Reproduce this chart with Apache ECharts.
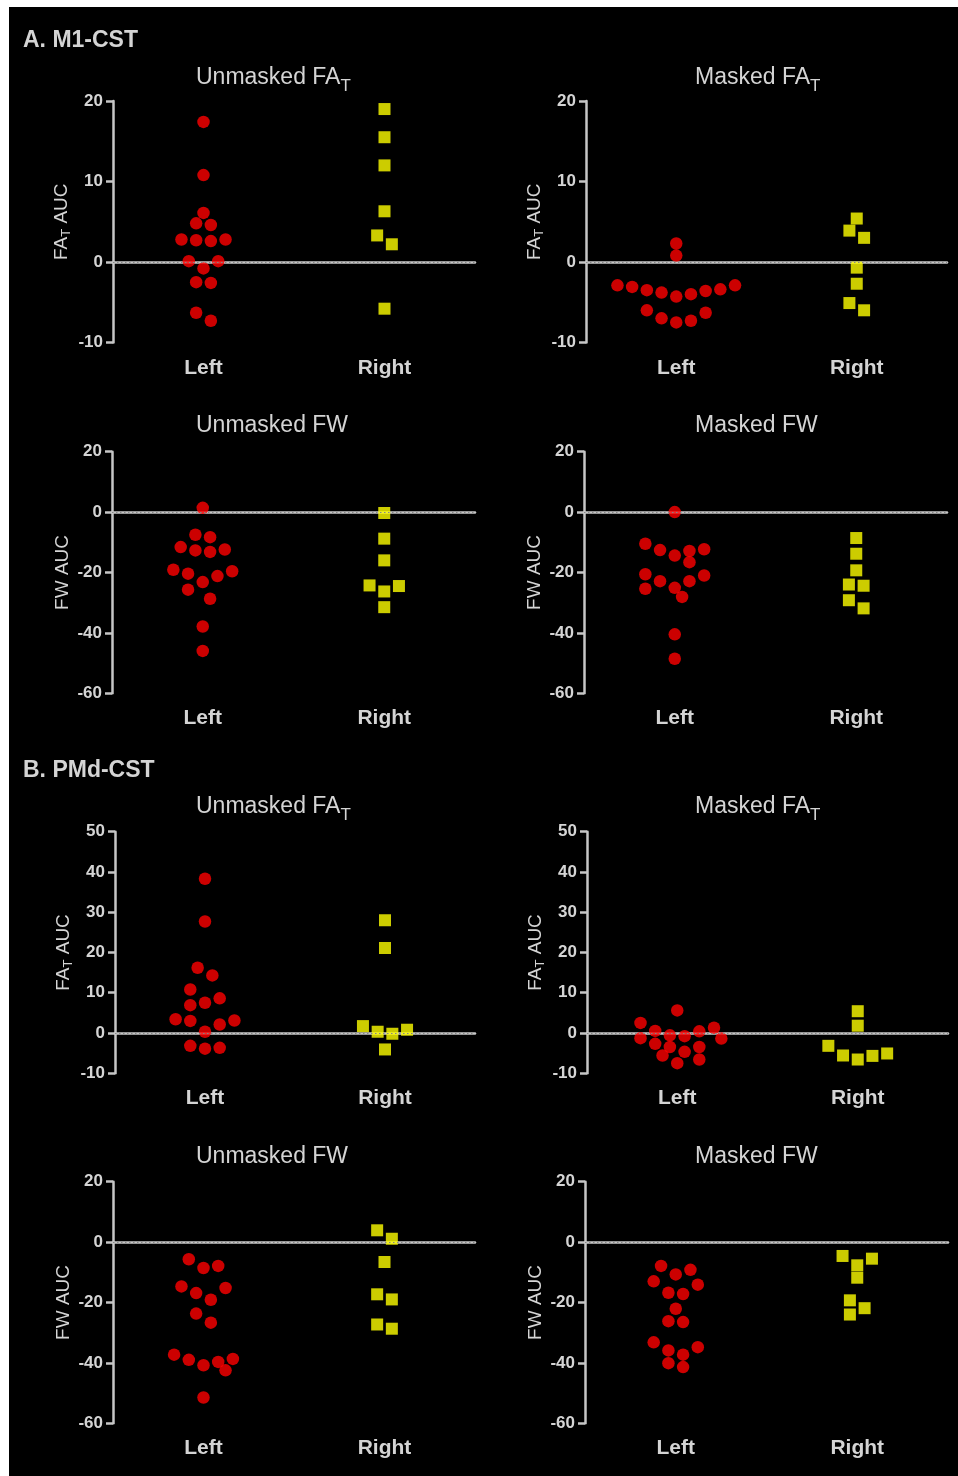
<!DOCTYPE html>
<html>
<head>
<meta charset="utf-8">
<title>M1-CST / PMd-CST AUC</title>
<script src="https://cdn.jsdelivr.net/npm/echarts@6/dist/echarts.min.js"></script>
<style>
  html, body { margin: 0; padding: 0; background: #fff; }
  #chart { position: absolute; left: 9px; top: 7px; width: 949px; height: 1469px; }
</style>
</head>
<body>
<div id="chart"></div>
<script>
// categories and y ranges [min, max, interval]
const sides = ['Left', 'Right'];
const m1FaRange = [-10, 20, 10];
const pmdFaRange = [-10, 50, 10];
const fwRange = [-60, 20, 20];

// A. M1-CST
const m1UnmaskedFaLeft = [17.4, 10.8, 6.1, 4.6, 4.8, 2.8, 2.7, 2.6, 2.8, 0.1, 0.1, -0.8, -2.5, -2.6, -6.3, -7.3];
const m1UnmaskedFaRight = [19.0, 15.5, 12.0, 6.3, 3.3, 2.2, -5.8];
const m1MaskedFaLeft = [2.3, 0.8, -3.4, -3.6, -4.0, -2.9, -2.9, -4.3, -3.8, -3.5, -3.1, -6.0, -7.0, -7.5, -7.3, -6.3];
const m1MaskedFaRight = [5.4, 3.9, 3.0, -0.7, -2.7, -5.1, -6.0];
const m1UnmaskedFwLeft = [1.4, -7.5, -8.3, -12.4, -13.2, -12.7, -11.6, -19.6, -21.2, -20.4, -19.1, -23.2, -25.7, -28.7, -37.9, -46.0];
const m1UnmaskedFwRight = [-0.3, -8.8, -16.0, -24.5, -24.3, -26.3, -31.5];
const m1MaskedFwLeft = [0.0, -10.5, -12.3, -12.9, -14.4, -12.6, -16.6, -20.6, -21.0, -22.9, -22.9, -25.1, -25.4, -28.1, -40.5, -48.6];
const m1MaskedFwRight = [-8.6, -13.8, -19.3, -24.0, -24.4, -29.2, -31.9];

// B. PMd-CST
const pmdUnmaskedFaLeft = [38.3, 27.7, 16.2, 14.3, 10.8, 8.6, 6.9, 7.5, 3.1, 3.4, 3.0, 2.1, 0.3, -3.2, -3.9, -3.7];
const pmdUnmaskedFaRight = [28.0, 21.1, 1.7, 0.3, -0.2, 0.8, -4.1];
const pmdMaskedFaLeft = [5.6, 2.5, 1.3, 0.4, 0.5, -0.8, -0.6, -1.4, -1.3, -2.7, -3.5, -3.5, -4.7, -5.6, -6.6, -7.5];
const pmdMaskedFaRight = [5.4, 1.8, -3.2, -5.6, -6.6, -5.7, -5.1];
const pmdUnmaskedFwLeft = [-5.7, -7.9, -8.6, -15.2, -14.7, -16.9, -19.1, -23.7, -26.7, -37.3, -39.0, -38.7, -39.7, -40.8, -42.5, -51.5];
const pmdUnmaskedFwRight = [3.9, 1.1, -6.6, -17.3, -19.0, -28.7, -27.3];
const pmdMaskedFwLeft = [-7.9, -9.2, -10.7, -13.0, -14.1, -16.8, -17.2, -22.1, -26.5, -26.2, -33.2, -34.8, -35.9, -37.3, -40.1, -41.4];
const pmdMaskedFwRight = [-4.6, -5.5, -7.7, -11.8, -19.3, -24.0, -21.9];

const panels = [
  { name: 'Unmasked FA', sub: 'T', yName: 'FA', ySub: 'T', range: m1FaRange, left: m1UnmaskedFaLeft, right: m1UnmaskedFaRight },
  { name: 'Masked FA', sub: 'T', yName: 'FA', ySub: 'T', range: m1FaRange, left: m1MaskedFaLeft, right: m1MaskedFaRight },
  { name: 'Unmasked FW', sub: '', yName: 'FW', ySub: '', range: fwRange, left: m1UnmaskedFwLeft, right: m1UnmaskedFwRight },
  { name: 'Masked FW', sub: '', yName: 'FW', ySub: '', range: fwRange, left: m1MaskedFwLeft, right: m1MaskedFwRight },
  { name: 'Unmasked FA', sub: 'T', yName: 'FA', ySub: 'T', range: pmdFaRange, left: pmdUnmaskedFaLeft, right: pmdUnmaskedFaRight },
  { name: 'Masked FA', sub: 'T', yName: 'FA', ySub: 'T', range: pmdFaRange, left: pmdMaskedFaLeft, right: pmdMaskedFaRight },
  { name: 'Unmasked FW', sub: '', yName: 'FW', ySub: '', range: fwRange, left: pmdUnmaskedFwLeft, right: pmdUnmaskedFwRight },
  { name: 'Masked FW', sub: '', yName: 'FW', ySub: '', range: fwRange, left: pmdMaskedFwLeft, right: pmdMaskedFwRight }
];

// layout, in page pixels
const OX = 9, OY = 7;
const PLOT_H = 241.5;
const frames = [
  { l: 113, r: 475, t: 101 }, { l: 586, r: 947, t: 101 },
  { l: 112, r: 475, t: 451.7 }, { l: 584, r: 947, t: 451.7 },
  { l: 115, r: 475, t: 831.7 }, { l: 587, r: 948, t: 831.7 },
  { l: 113, r: 475, t: 1181.7 }, { l: 585, r: 948, t: 1181.7 }
];
const titleX = [196, 695];
const titleY = [75, 424, 804, 1155];

const FONT = '"Liberation Sans", Arial, Helvetica, sans-serif';
const TEXT = '#d4d4d4';
const AXIS = '#c6c6c6';
const RED = '#ff0000';
const YELLOW = '#ffff00';

// column scatter spread (rows of points centred on the category, pushed out on overlap)
function swarm(values, pxPerUnit) {
  const SLOT = 14.7, HALF = SLOT / 2, MIN_D = 11, GAP = 9.5, SPAN = 14;
  const pts = values.map((v, i) => ({ v: v, i: i, y: v * pxPerUnit, x: 0 }));
  const sorted = pts.slice().sort((a, b) => b.v - a.v);
  const rows = [];
  sorted.forEach(p => {
    const row = rows[rows.length - 1];
    if (row && row[row.length - 1].y - p.y <= GAP && row[0].y - p.y <= SPAN) row.push(p);
    else rows.push([p]);
  });
  const placed = [];
  const hits = (x, y) => placed.some(q => Math.hypot(q.x - x, q.y - y) < MIN_D);
  rows.forEach(row => {
    const n = row.length;
    const slots = [];
    for (let k = 0; k < n; k++) slots.push((k - (n - 1) / 2) * SLOT);
    slots.sort((a, b) => Math.abs(a) - Math.abs(b) || b - a);
    row.slice().sort((a, b) => a.v - b.v).forEach((p, j) => {
      const ideal = slots[j];
      const dir = ideal >= 0 ? 1 : -1;
      let x = ideal;
      for (let k = 1; hits(x, p.y) && k < 40; k++) {
        x = ideal === 0 ? (k % 2 ? 1 : -1) * Math.ceil(k / 2) * HALF : ideal + dir * k * HALF;
      }
      p.x = x;
      placed.push(p);
    });
  });
  return pts.map(p => p.x);
}

// main text + lowered subscript, as rich text
const withSub = (main, sub) => '{m|' + main + '}' + (sub ? '{s|' + sub + '}' : '');
const richSub = (size, subSize, drop) => ({
  m: { color: TEXT, fontSize: size, fontFamily: FONT, fontWeight: 'normal', verticalAlign: 'middle' },
  s: { color: TEXT, fontSize: subSize, fontFamily: FONT, fontWeight: 'normal', verticalAlign: 'middle', padding: [drop, 0, 0, 0] },
  r: { color: TEXT, fontSize: size, fontFamily: FONT, fontWeight: 'normal', verticalAlign: 'middle' }
});

const grid = [], xAxis = [], yAxis = [], series = [];
const title = [
  { text: 'A. M1-CST', left: 23 - OX, top: 29 - OY },
  { text: 'B. PMd-CST', left: 23 - OX, top: 759 - OY }
].map(t => Object.assign(t, {
  padding: 0,
  textStyle: { color: TEXT, fontSize: 23, fontWeight: 'bold', fontFamily: FONT }
}));

panels.forEach((p, i) => {
  const f = frames[i];
  const W = f.r - f.l;
  const pxPerUnit = PLOT_H / (p.range[1] - p.range[0]);

  grid.push({ left: f.l - OX, top: f.t - OY, width: W, height: PLOT_H });

  xAxis.push({
    type: 'category', gridIndex: i, data: sides, boundaryGap: true,
    axisLine: { lineStyle: { color: AXIS, width: 2.5 } },
    axisTick: { alignWithLabel: true, length: 7, lineStyle: { color: AXIS, width: 2.5 } },
    axisLabel: { color: TEXT, fontSize: 21, fontWeight: 'bold', fontFamily: FONT, margin: 15 },
    splitLine: { show: false }
  });
  xAxis.push({ type: 'value', gridIndex: i, min: 0, max: 2, show: false });

  yAxis.push({
    type: 'value', gridIndex: i,
    min: p.range[0], max: p.range[1], interval: p.range[2],
    name: withSub(p.yName, p.ySub) + '{r| AUC}', nameLocation: 'middle', nameRotate: 90, nameGap: 40,
    nameTextStyle: { color: TEXT, fontSize: 19, fontFamily: FONT, rich: richSub(19, 13, 9) },
    axisLine: { show: true, lineStyle: { color: AXIS, width: 2.5 } },
    axisTick: { show: true, length: 7, lineStyle: { color: AXIS, width: 2.5 } },
    axisLabel: { color: TEXT, fontSize: 17, fontWeight: 'bold', fontFamily: FONT, margin: 10 },
    splitLine: { show: false }
  });

  const toPoints = (vals, centre) =>
    swarm(vals, pxPerUnit).map((dx, k) => [centre + dx / (W / 2), vals[k]]);

  series.push({
    type: 'scatter', xAxisIndex: 2 * i + 1, yAxisIndex: i,
    symbol: 'circle', symbolSize: 12.5, itemStyle: { color: RED },
    data: toPoints(p.left, 0.5),
    markLine: {
      silent: true, symbol: ['none', 'none'], label: { show: false },
      lineStyle: { type: [1.5, 2.5], color: '#858585', width: 1 },
      data: [{ yAxis: 0 }]
    },
    z: 3
  });
  series.push({
    type: 'scatter', xAxisIndex: 2 * i + 1, yAxisIndex: i,
    symbol: 'rect', symbolSize: 12, itemStyle: { color: YELLOW },
    data: toPoints(p.right, 1.5),
    z: 3
  });

  title.push({
    text: withSub(p.name, p.sub),
    left: titleX[i % 2] - OX, top: titleY[Math.floor(i / 2)] - (p.sub ? 15 : 10) - OY, padding: 0,
    textStyle: { color: TEXT, fontSize: 23, fontWeight: 'normal', fontFamily: FONT, rich: richSub(23, 17, 18) }
  });
});

const chart = echarts.init(document.getElementById('chart'));
chart.setOption({
  backgroundColor: '#000',
  animation: false,
  title: title,
  grid: grid,
  xAxis: xAxis,
  yAxis: yAxis,
  series: series
});
</script>
</body>
</html>
